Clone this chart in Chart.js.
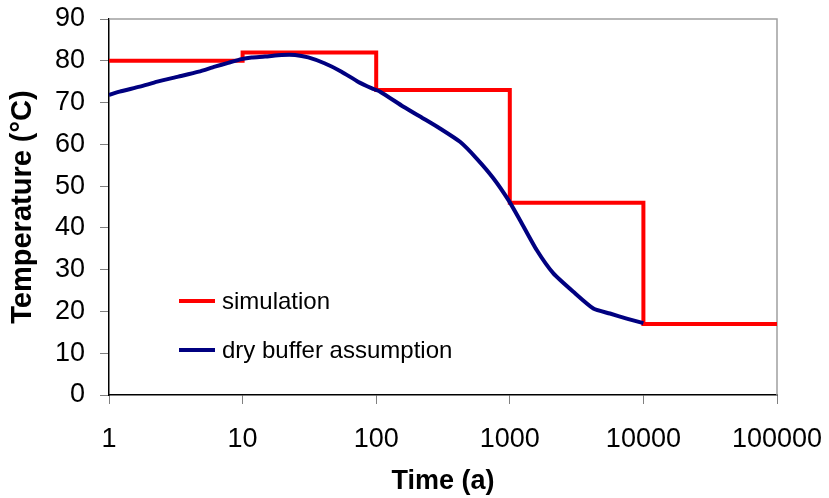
<!DOCTYPE html>
<html>
<head>
<meta charset="utf-8">
<script src="https://cdn.jsdelivr.net/npm/chart.js@4.4.0/dist/chart.umd.min.js"></script>
<style>
  html, body { margin: 0; padding: 0; background: #fff; }
  #chart { display: block; }
</style>
</head>
<body>
<canvas id="chart" width="829" height="498"></canvas>
<script>
const xTicks = [1, 10, 100, 1000, 10000, 100000];

// simulation: constant temperature per decade (step)
const simTime = [1, 10, 100, 1000, 10000, 100000];
const simTemp = [80, 82, 73, 46, 17, 17];

// dry buffer assumption curve
const dryTime = [1, 1.2, 1.7, 2.3, 3.3, 4.7, 6.2, 7.8, 9.8, 11.7, 14.7, 19.6, 24.7, 31, 41, 55, 73, 93, 107,
  160, 225, 300, 424, 565, 753, 975, 1190, 1590, 2120, 2990, 4220, 5620, 7500, 10000];
const dryTemp = [71.8, 72.6, 73.8, 75.0, 76.2, 77.4, 78.6, 79.5, 80.4, 80.8, 81.0, 81.4, 81.4, 80.8, 79.4, 77.4, 75.0, 73.4, 72.6,
  69.0, 66.2, 63.8, 60.6, 56.6, 51.9, 46.7, 41.9, 34.7, 29.1, 24.7, 20.7, 19.5, 18.3, 17.2];

const toPoints = (xs, ys) => xs.map((x, i) => ({ x: x, y: ys[i] }));

Chart.defaults.font.family = '"Liberation Sans", Arial, sans-serif';
Chart.defaults.color = '#000';

// grey top/right frame of the plot area
const frame = {
  id: 'frame',
  beforeDatasetsDraw(chart) {
    const { ctx, chartArea: a } = chart;
    ctx.save();
    ctx.strokeStyle = '#a0a0a0';
    ctx.lineWidth = 1.5;
    ctx.beginPath();
    ctx.moveTo(a.left, a.top);
    ctx.lineTo(a.right, a.top);
    ctx.lineTo(a.right, a.bottom);
    ctx.stroke();
    ctx.restore();
  }
};

// legend sitting inside the plot area
const insideLegend = {
  id: 'insideLegend',
  afterDraw(chart) {
    const { ctx } = chart;
    const rows = [301, 350];
    ctx.save();
    ctx.font = '24px "Liberation Sans", Arial, sans-serif';
    ctx.textBaseline = 'middle';
    ctx.fillStyle = '#000';
    chart.data.datasets.forEach((ds, i) => {
      ctx.strokeStyle = ds.borderColor;
      ctx.lineWidth = 4;
      ctx.beginPath();
      ctx.moveTo(179, rows[i]);
      ctx.lineTo(215, rows[i]);
      ctx.stroke();
      ctx.fillText(ds.label, 222, rows[i] + 1);
    });
    ctx.restore();
  }
};

const chart = new Chart(document.getElementById('chart'), {
  type: 'line',
  data: {
    datasets: [
      {
        label: 'simulation',
        data: toPoints(simTime, simTemp),
        borderColor: '#ff0000',
        borderWidth: 4,
        pointRadius: 0,
        stepped: 'before',
        order: 1
      },
      {
        label: 'dry buffer assumption',
        data: toPoints(dryTime, dryTemp),
        borderColor: '#000080',
        borderWidth: 4,
        pointRadius: 0,
        tension: 0.2,
        order: 0
      }
    ]
  },
  options: {
    responsive: false,
    animation: false,
    layout: { padding: { top: 19, right: 52, left: 0, bottom: 0 } },
    plugins: {
      legend: { display: false },
      tooltip: { enabled: false }
    },
    scales: {
      x: {
        type: 'logarithmic',
        min: 1,
        max: 100000,
        afterBuildTicks: (scale) => { scale.ticks = xTicks.map(v => ({ value: v })); },
        afterFit: (scale) => {
          scale.height = 103;
          scale.paddingLeft = 0;
          scale.paddingRight = 0;
        },
        ticks: {
          font: { size: 27 },
          padding: 19,
          maxRotation: 0,
          callback: (v) => String(v)
        },
        grid: { drawOnChartArea: false, tickLength: 9, color: '#808080' },
        border: { color: '#000', width: 1.5 },
        title: {
          display: true,
          text: 'Time (a)',
          font: { size: 27, weight: 'bold' },
          padding: { top: 0, bottom: 0 }
        }
      },
      y: {
        min: 0,
        max: 90,
        afterFit: (scale) => {
          scale.width = 109;
          scale.paddingTop = 0;
          scale.paddingBottom = 0;
        },
        ticks: { stepSize: 10, font: { size: 27 }, padding: 15 },
        grid: { drawOnChartArea: false, tickLength: 9, color: '#808080' },
        border: { color: '#000', width: 1.5 },
        title: {
          display: true,
          text: 'Temperature (°C)',
          font: { size: 29, weight: 'bold' },
          padding: { top: 6, bottom: 0 }
        }
      }
    }
  },
  plugins: [frame, insideLegend]
});
</script>
</body>
</html>
